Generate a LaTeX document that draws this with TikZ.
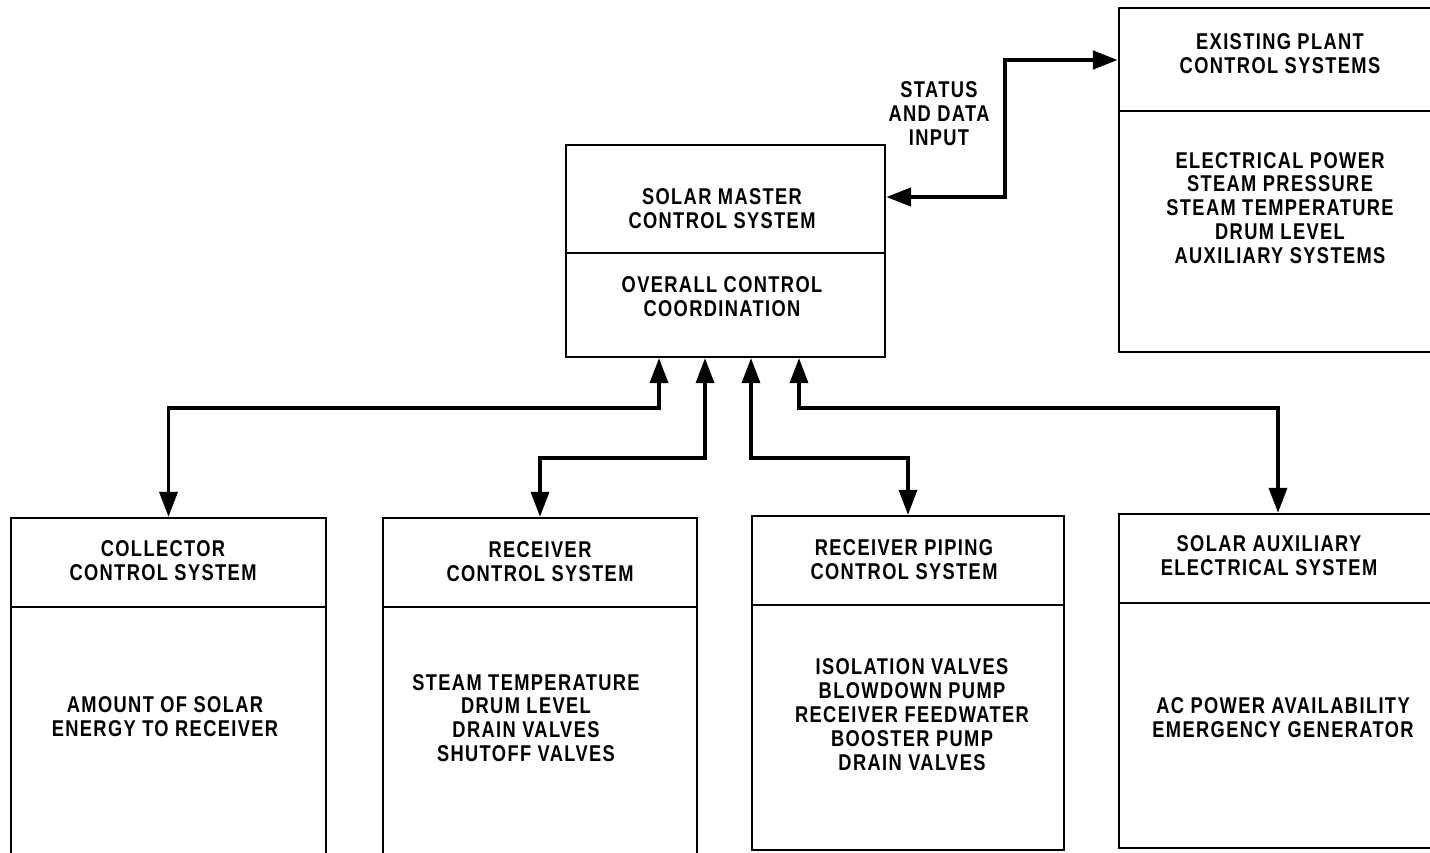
\documentclass[tikz,border=0pt]{standalone}
\usepackage{fontspec}
\setmainfont{Liberation Sans}[FakeStretch=0.8,LetterSpace=6]
\usetikzlibrary{arrows.meta,fit}

\begin{document}
\begin{tikzpicture}[x=0.02cm,y=-0.02cm,
  ctlbox/.style={draw,line width=1.3pt,inner sep=0pt},
  lbl/.style={align=center,inner sep=0pt,font=\bfseries\fontsize{13}{13.6}\selectfont},
  link/.style={line width=2pt,{Triangle[length=5mm,width=3.6mm]}-{Triangle[length=5mm,width=3.6mm]}}]
  \useasboundingbox (0,0) rectangle (1430,852);
  % boxes
  \node[ctlbox,fit={(566,145) (885,357)}] (master) {};
  \node[ctlbox,fit={(1119,8) (1441,352)}] (exist) {};
  \node[ctlbox,fit={(11,518) (326,880)}] (coll) {};
  \node[ctlbox,fit={(383,518) (697,880)}] (recv) {};
  \node[ctlbox,fit={(752,516) (1064,850)}] (pipe) {};
  \node[ctlbox,fit={(1119,514) (1437,848)}] (aux) {};
  % title / body dividers
  \foreach \b/\d in {master/253,exist/111,coll/607,recv/607,pipe/605,aux/603}
    \draw[line width=1.3pt] (\b.west |- 0,\d) -- (\b.east |- 0,\d);
  % texts
  \node[lbl] (masterT) at (722,208.5) {SOLAR MASTER\\CONTROL SYSTEM};
  \node[lbl] (masterB) at (722,297) {OVERALL CONTROL\\COORDINATION};
  \node[lbl] (existT) at (1280,54) {EXISTING PLANT\\CONTROL SYSTEMS};
  \node[lbl] (existB) at (1280,208) {ELECTRICAL POWER\\STEAM PRESSURE\\STEAM TEMPERATURE\\DRUM LEVEL\\AUXILIARY SYSTEMS};
  \node[lbl] (collT) at (163,561) {COLLECTOR\\CONTROL SYSTEM};
  \node[lbl] (collB) at (165,716.5) {AMOUNT OF SOLAR\\ENERGY TO RECEIVER};
  \node[lbl] (recvT) at (540,561.5) {RECEIVER\\CONTROL SYSTEM};
  \node[lbl] (recvB) at (526,718) {STEAM TEMPERATURE\\DRUM LEVEL\\DRAIN VALVES\\SHUTOFF VALVES};
  \node[lbl] (pipeT) at (904,560) {RECEIVER PIPING\\CONTROL SYSTEM};
  \node[lbl] (pipeB) at (912,714.5) {ISOLATION VALVES\\BLOWDOWN PUMP\\RECEIVER FEEDWATER\\BOOSTER PUMP\\DRAIN VALVES};
  \node[lbl] (auxT) at (1269,556) {SOLAR AUXILIARY\\ELECTRICAL SYSTEM};
  \node[lbl] (auxB) at (1283,718) {AC POWER AVAILABILITY\\EMERGENCY GENERATOR};
  \node[lbl] (status) at (939,114) {STATUS\\AND DATA\\INPUT};
  % status and data link
  \draw[link,line width=2.6pt] (master.east |- 0,197) -| (1005,60) -- (exist.west |- 0,60);
  % links to the subsystems
  \draw[link] (coll.north) |- (659,408) -- (master.south -| 659,0);
  \draw[link] (recv.north) |- (705,458) -- (master.south -| 705,0);
  \draw[link] (pipe.north) |- (751,458) -- (master.south -| 751,0);
  \draw[link] (aux.north) |- (799,408) -- (master.south -| 799,0);
\end{tikzpicture}
\end{document}
